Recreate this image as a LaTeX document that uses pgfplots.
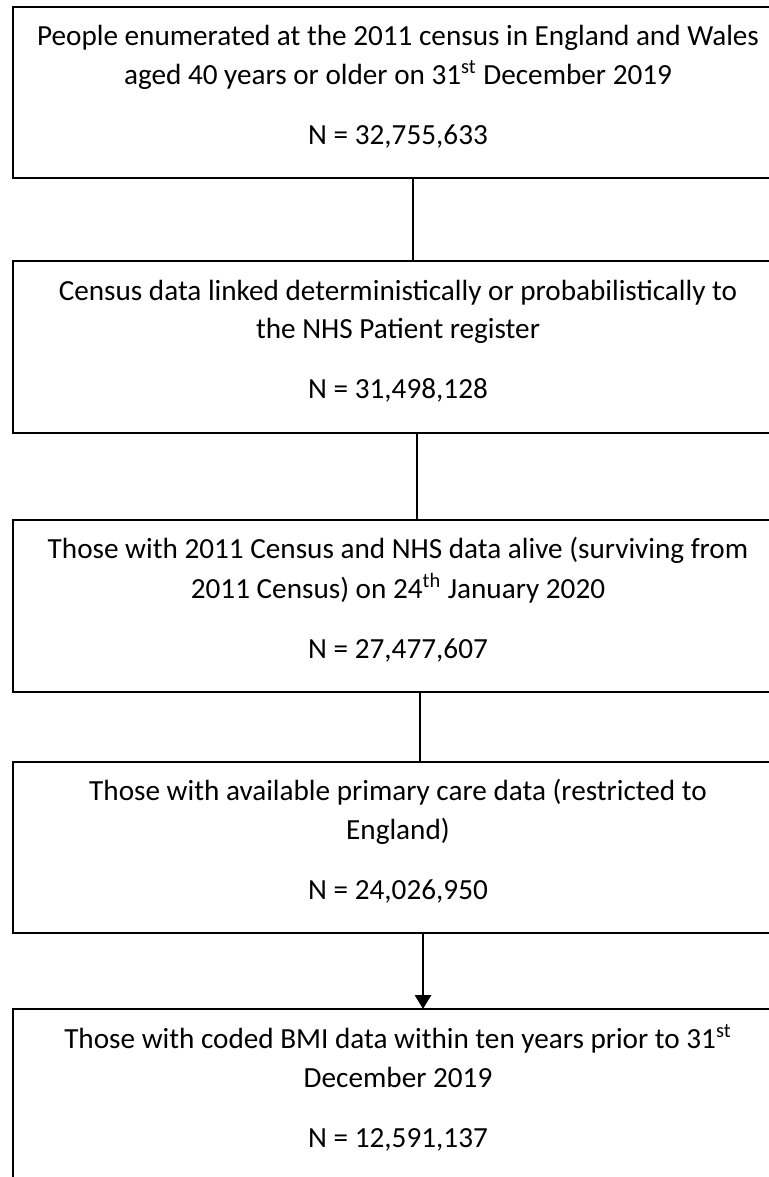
\documentclass[border=0pt]{standalone}
\usepackage{pgfplots}
\pgfplotsset{compat=1.18}
\usetikzlibrary{arrows.meta}
\usepackage{fontspec}
\setmainfont{Carlito}
\begin{document}
\begin{tikzpicture}[lab/.style={font=\fontsize{14.6}{17}\selectfont, anchor=base, inner sep=0pt, outer sep=0pt}]
\begin{axis}[
  scale only axis,
  width=384.5pt, height=588.5pt,
  xmin=0, xmax=769, ymin=0, ymax=1177,
  y dir=reverse,
  hide axis,
  clip=true,
]
% boxes (right edge and last box bottom lie outside the picture)
\addplot[black, line width=1pt, line join=miter] coordinates {(790,7) (13,7) (13,178) (790,178)};
\addplot[black, line width=1pt, line join=miter] coordinates {(790,261) (13,261) (13,433) (790,433)};
\addplot[black, line width=1pt, line join=miter] coordinates {(790,520) (13,520) (13,692) (790,692)};
\addplot[black, line width=1pt, line join=miter] coordinates {(790,762) (13,762) (13,933) (790,933)};
\addplot[black, line width=1pt, line join=miter] coordinates {(790,1009) (13,1009) (13,1200)};
% connectors
\addplot[black, line width=1.4pt] coordinates {(413,178) (413,261)};
\addplot[black, line width=1.4pt] coordinates {(417,433) (417,520)};
\addplot[black, line width=1.4pt] coordinates {(420,692) (420,762)};
\addplot[black, line width=1.4pt, -{Triangle[length=7pt,width=8pt]}] coordinates {(423,933) (423,1009)};
% texts
\node[lab] at (axis cs:398,45) {People enumerated at the 2011 census in England and Wales};
\node[lab] at (axis cs:398,84) {aged 40 years or older on 31\textsuperscript{st} December 2019};
\node[lab] at (axis cs:398,144) {N = 32,755,633};
\node[lab] at (axis cs:398,300) {Census data linked deterministically or probabilistically to};
\node[lab] at (axis cs:398,338) {the NHS Patient register};
\node[lab] at (axis cs:398,398) {N = 31,498,128};
\node[lab] at (axis cs:398,558) {Those with 2011 Census and NHS data alive (surviving from};
\node[lab] at (axis cs:398,598) {2011 Census) on 24\textsuperscript{th} January 2020};
\node[lab] at (axis cs:398,658) {N = 27,477,607};
\node[lab] at (axis cs:398,800) {Those with available primary care data (restricted to};
\node[lab] at (axis cs:398,839) {England)};
\node[lab] at (axis cs:398,899) {N = 24,026,950};
\node[lab] at (axis cs:398,1048) {Those with coded BMI data within ten years prior to 31\textsuperscript{st}};
\node[lab] at (axis cs:398,1087) {December 2019};
\node[lab] at (axis cs:398,1147) {N = 12,591,137};
\end{axis}
\pgfresetboundingbox
\path[use as bounding box] (current axis.south west) rectangle (current axis.north east);
\end{tikzpicture}
\end{document}
